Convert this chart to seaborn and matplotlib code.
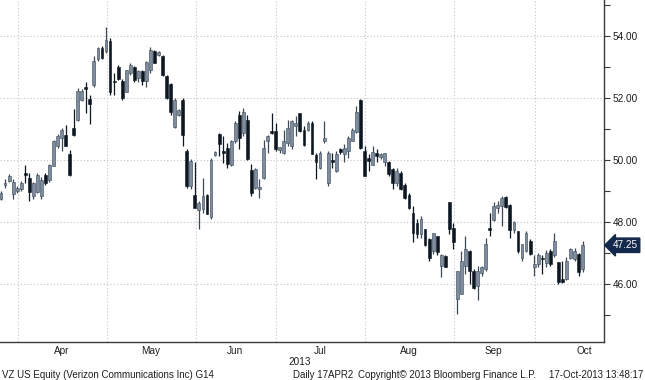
import numpy as np
import pandas as pd
import seaborn as sns
import matplotlib.pyplot as plt
import matplotlib.transforms as mtransforms

# Datos diarios VZ (OHLC)
opens = [
    48.75, 49.20, 49.32, 48.89, 49.00, 49.05, 49.58, 49.43, 48.85, 48.97,
    48.85, 49.50, 49.35, 49.82, 50.45, 50.70, 50.82, 50.18, 51.03, 51.30,
    51.95, 52.37, 51.98, 52.43, 53.25, 53.62, 53.50, 53.85, 52.55, 53.00,
    52.55, 52.20, 52.80, 53.00, 52.65, 52.88, 52.55, 52.90, 53.52, 53.40,
    53.35, 52.72, 52.45, 51.05, 51.45, 51.94, 50.30, 49.16, 48.87, 48.40,
    48.41, 48.88, 48.15, 50.15, 50.85, 50.30, 50.40, 49.85, 50.60, 51.45,
    50.88, 51.30, 49.68, 49.11, 49.05, 49.43, 50.62, 50.95, 50.92, 50.33,
    50.23, 50.55, 50.45, 51.10, 51.50, 50.96, 50.98, 51.20, 50.15, 49.75,
    50.62, 49.27, 50.00, 49.65, 50.34, 50.20, 50.29, 50.60, 50.90, 51.94,
    50.28, 50.05, 49.85, 50.23, 50.10, 49.92, 49.95, 49.70, 49.27, 49.58,
    49.20, 48.86, 48.30, 47.97, 47.60, 47.77, 47.45, 47.08, 47.55, 46.59,
    46.90, 48.63, 47.82, 45.52, 45.68, 46.59, 47.07, 46.43, 45.95, 46.35,
    46.48, 47.80, 48.05, 48.45, 48.52, 48.82, 48.55, 47.75, 47.70, 46.85,
    47.05, 47.40, 46.55, 46.65, 46.85, 46.68, 47.05, 46.95, 46.70, 46.15,
    46.17, 46.85, 46.80, 46.97, 46.50]
highs = [
    49.00, 49.38, 49.56, 49.38, 49.16, 49.32, 49.84, 49.57, 49.29, 49.57,
    49.45, 49.59, 49.86, 50.63, 50.84, 51.04, 51.12, 50.32, 51.66, 52.32,
    52.29, 52.50, 52.10, 53.34, 53.66, 53.69, 54.30, 53.93, 52.80, 53.05,
    52.61, 52.91, 53.12, 53.02, 52.91, 52.91, 53.18, 53.66, 53.55, 53.50,
    53.39, 52.75, 52.48, 52.00, 51.63, 52.00, 50.34, 50.02, 49.94, 48.68,
    49.43, 48.90, 50.05, 50.28, 50.87, 50.77, 50.55, 50.66, 51.25, 51.57,
    51.68, 51.46, 49.86, 49.75, 49.38, 50.66, 50.82, 51.52, 51.19, 50.43,
    50.98, 51.30, 51.30, 51.41, 51.52, 51.09, 51.25, 51.25, 50.23, 50.29,
    51.25, 50.29, 50.23, 50.29, 50.40, 50.50, 50.77, 51.03, 51.73, 51.96,
    50.45, 50.18, 50.45, 50.34, 50.23, 50.23, 49.98, 49.75, 49.75, 49.64,
    49.27, 48.95, 48.52, 48.09, 48.20, 47.79, 47.48, 47.66, 47.55, 46.97,
    46.92, 48.63, 47.98, 46.43, 47.07, 47.55, 47.10, 46.47, 46.59, 46.59,
    47.50, 48.30, 48.63, 48.68, 48.84, 48.84, 48.57, 48.02, 47.72, 47.30,
    47.72, 47.45, 46.92, 47.00, 46.92, 47.10, 47.13, 47.66, 46.70, 46.75,
    46.86, 47.15, 47.15, 47.00, 47.40]
lows = [
    48.70, 49.11, 49.29, 48.75, 48.95, 49.00, 49.27, 48.68, 48.73, 48.95,
    48.75, 49.18, 49.29, 49.80, 50.40, 50.29, 50.45, 49.48, 50.77, 51.25,
    51.89, 51.53, 51.17, 52.35, 53.20, 53.25, 53.45, 52.08, 52.10, 52.58,
    51.94, 52.20, 52.75, 52.53, 52.53, 52.43, 52.37, 52.80, 53.12, 53.34,
    52.72, 51.97, 51.46, 51.03, 51.41, 50.45, 49.11, 49.05, 48.46, 47.77,
    48.30, 48.25, 48.10, 50.12, 50.12, 49.91, 49.75, 49.80, 50.55, 50.34,
    50.77, 50.00, 48.84, 49.05, 48.79, 49.40, 50.23, 50.85, 50.28, 50.23,
    50.18, 50.45, 50.34, 50.77, 50.90, 50.45, 50.93, 50.18, 49.38, 49.70,
    50.55, 49.16, 49.75, 49.60, 50.18, 49.95, 50.07, 50.60, 50.87, 50.34,
    49.48, 49.64, 49.85, 49.92, 50.02, 49.80, 49.48, 49.05, 49.16, 49.03,
    48.73, 48.41, 47.34, 47.50, 47.50, 47.22, 46.75, 46.98, 46.95, 46.22,
    46.54, 47.60, 47.13, 45.04, 45.68, 46.33, 46.00, 45.84, 45.47, 46.27,
    46.43, 47.55, 48.02, 48.30, 47.87, 48.46, 47.50, 47.66, 47.00, 46.75,
    47.02, 46.95, 46.27, 46.54, 46.33, 46.54, 46.59, 46.86, 46.01, 46.03,
    46.12, 46.80, 46.75, 46.27, 46.40]
closes = [
    48.95, 49.25, 49.48, 49.29, 49.10, 49.25, 49.52, 48.97, 49.25, 49.50,
    49.35, 49.25, 49.83, 50.60, 50.78, 50.97, 50.45, 49.50, 50.82, 52.24,
    52.22, 52.30, 51.80, 53.20, 53.60, 53.28, 53.87, 52.20, 52.50, 52.60,
    52.00, 52.90, 53.05, 52.58, 52.88, 52.55, 53.15, 53.55, 53.14, 53.48,
    52.75, 52.00, 51.55, 51.95, 51.62, 50.82, 49.15, 49.96, 48.46, 48.62,
    48.84, 48.25, 50.00, 50.25, 50.50, 50.23, 49.88, 50.60, 51.20, 50.72,
    51.55, 50.02, 48.95, 49.70, 49.12, 50.39, 50.77, 50.88, 50.34, 50.42,
    50.60, 51.03, 51.25, 51.20, 50.93, 50.47, 51.20, 50.20, 49.92, 50.23,
    50.72, 50.23, 49.95, 50.20, 50.27, 50.38, 50.71, 50.98, 51.55, 50.40,
    49.48, 49.98, 50.27, 50.13, 50.20, 50.22, 49.55, 49.27, 49.64, 49.06,
    48.78, 48.45, 47.66, 47.60, 48.10, 47.25, 46.85, 47.63, 47.02, 46.92,
    46.55, 47.77, 47.34, 46.43, 46.75, 47.13, 46.43, 45.86, 46.43, 46.55,
    47.30, 47.75, 48.52, 48.55, 48.79, 48.50, 47.75, 48.00, 47.05, 47.30,
    47.65, 46.98, 46.65, 46.95, 46.80, 47.00, 46.65, 47.40, 46.06, 46.08,
    46.75, 47.13, 47.05, 46.38, 47.25]
holidays = ["2013-03-29", "2013-05-27", "2013-07-04", "2013-09-02"]
dates = pd.bdate_range("2013-03-25", "2013-10-17", freq="C", holidays=holidays)
last_price = 47.25

df = pd.DataFrame({"date": dates, "open": opens, "high": highs,
                   "low": lows, "close": closes})
df["i"] = np.arange(len(df))
df["up"] = df["close"] >= df["open"]

# Estilo
sns.set_style("white")
plt.rcParams['font.family'] = ['Liberation Sans', 'DejaVu Sans']
up_color = '#7d8d9f'
up_edge = '#3c4856'
down_color = '#0c1722'
grid_color = '#c4c4c4'
axis_color = '#3a3a3a'
text_color = '#1e1e1e'

fig = plt.figure(figsize=(6.45, 3.8), dpi=100)
ax = fig.add_axes([0.0, 0.1, 604 / 645, 0.9])

# Mechas
for up, wick in [(True, up_edge), (False, down_color)]:
    sub = df[df["up"] == up]
    ax.vlines(sub["i"], sub["low"], sub["high"], color=wick, lw=0.9, zorder=2)

# Cuerpos
body_lo = np.minimum(df["open"], df["close"])
body_h = np.maximum(np.abs(df["close"] - df["open"]), 0.05)
ax.bar(df["i"][df["up"]], body_h[df["up"]], bottom=body_lo[df["up"]], width=0.7,
       color=up_color, edgecolor=up_edge, linewidth=0.4, zorder=3)
ax.bar(df["i"][~df["up"]], body_h[~df["up"]], bottom=body_lo[~df["up"]], width=0.7,
       color=down_color, edgecolor=down_color, linewidth=0.4, zorder=3)

# Ejes
ax.set_xlim(-0.25, 149.3)
ax.set_ylim(44.13, 55.16)
sns.despine(ax=ax, left=True, top=True, right=False, bottom=False)
for side in ['right', 'bottom']:
    ax.spines[side].set_color(axis_color)
    ax.spines[side].set_linewidth(1.0)

# Eje y a la derecha
ax.yaxis.tick_right()
ax.set_yticks(np.arange(46, 55, 2))
ax.set_yticks(np.arange(45, 56, 2), minor=True)
ax.yaxis.set_major_formatter(plt.FormatStrFormatter('%.2f'))
ax.tick_params(axis='y', which='major', direction='out', length=4, width=0.8,
               color=axis_color, labelsize=7.2, labelcolor=text_color, pad=2)
ax.tick_params(axis='y', which='minor', direction='out', length=4, width=0.8,
               color=axis_color)

# Eje x: meses
month_start = df.groupby(df["date"].dt.to_period("M"))["i"].min()
bounds = month_start.values[1:]
names = [p.strftime('%b') for p in month_start.index[1:]]
label_pos = list((bounds[:-1] + bounds[1:]) / 2) + [bounds[-1] + 12.5]
ax.set_xticks(bounds + 0.2)
ax.set_xticklabels([])
ax.set_xticks(label_pos, minor=True)
ax.set_xticklabels(names, minor=True)
ax.tick_params(axis='x', which='major', direction='out', length=4, width=0.8,
               color=axis_color)
ax.tick_params(axis='x', which='minor', length=0, labelsize=7.2,
               labelcolor=text_color, pad=3)

ax.grid(True, which='major', color=grid_color, linestyle=(0, (1, 2)), lw=0.8)
ax.set_axisbelow(True)

# Etiqueta último precio
trans = mtransforms.blended_transform_factory(ax.transAxes, ax.transData)
ax.text(1.014, last_price, f'{last_price:.2f}', transform=trans, ha='left',
        va='center', fontsize=7.2, color='white', clip_on=False,
        bbox=dict(boxstyle='larrow,pad=0.22', fc='#13294b', ec='#13294b'))

# Textos inferiores
fig.text(300 / 645, 1 - 362 / 380, '2013', ha='center', va='center',
         fontsize=7.2, color=text_color)
fig.text(2 / 645, 1 - 375 / 380, 'VZ US Equity (Verizon Communications Inc) G14',
         ha='left', va='center', fontsize=7, color=text_color)
fig.text(293 / 645, 1 - 375 / 380, 'Daily 17APR2', ha='left', va='center',
         fontsize=7, color=text_color)
fig.text(358 / 645, 1 - 375 / 380, 'Copyright\u00a9 2013 Bloomberg Finance L.P.',
         ha='left', va='center', fontsize=7, color=text_color)
fig.text(643 / 645, 1 - 375 / 380, '17-Oct-2013 13:48:17', ha='right',
         va='center', fontsize=7, color=text_color)

fig.savefig('out.png', dpi=100, facecolor='white')
plt.close(fig)
